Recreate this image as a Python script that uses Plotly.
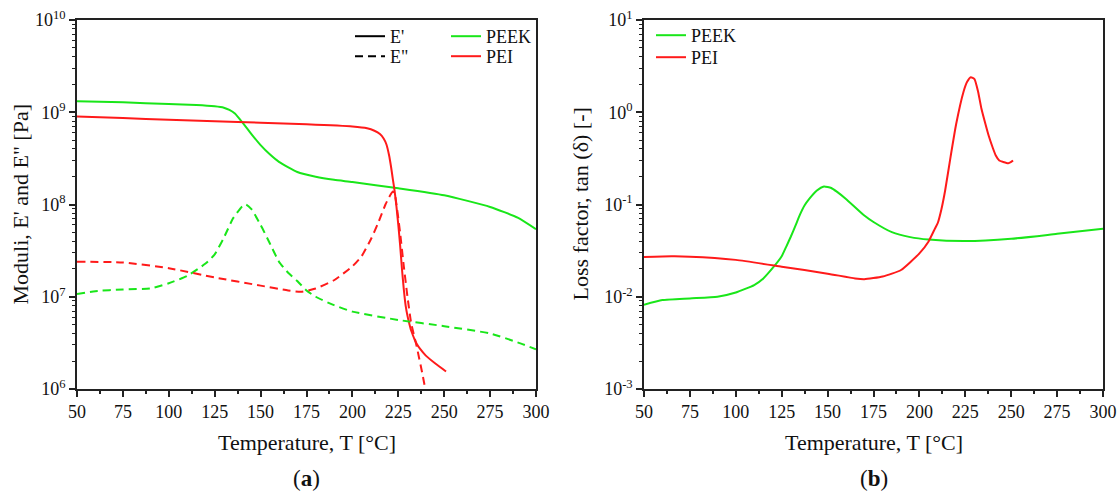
import plotly.graph_objects as go

# ---------------- data ----------------
# (a) storage / loss moduli [Pa]
peek_Ep_T = [50, 75, 100, 115, 125, 130, 133, 136, 140, 145, 150, 155, 160, 170, 180, 190, 200, 225, 250, 275, 290, 300]
peek_Ep = [1.32e9, 1.28e9, 1.23e9, 1.2e9, 1.16e9, 1.12e9, 1.06e9, 0.97e9, 0.78e9, 0.58e9, 0.44e9, 0.35e9,
           0.29e9, 0.225e9, 0.2e9, 0.185e9, 0.175e9, 0.15e9, 0.126e9, 0.094e9, 0.072e9, 0.054e9]

pei_Ep_T = [50, 75, 100, 125, 150, 175, 200, 208, 212, 215, 217, 218.5, 220, 221, 222, 223, 224, 225, 226,
            227, 228, 229, 230, 231, 232, 233, 234, 235, 237, 240, 245, 251]
pei_Ep = [9.0e8, 8.65e8, 8.3e8, 8.0e8, 7.7e8, 7.4e8, 7.0e8, 6.7e8, 6.3e8, 5.8e8, 5.2e8, 4.5e8, 3.4e8, 2.6e8,
          1.9e8, 1.4e8, 9.5e7, 6.0e7, 3.6e7, 2.0e7, 1.2e7, 8.0e6, 6.2e6, 5.1e6, 4.3e6, 3.8e6, 3.4e6, 3.1e6,
          2.7e6, 2.3e6, 1.9e6, 1.55e6]

peek_Epp_T = [50, 60, 75, 90, 100, 110, 120, 125, 130, 135, 140, 142, 145, 150, 155, 160, 165, 170, 175, 180,
              190, 200, 225, 250, 275, 290, 300]
peek_Epp = [1.07e7, 1.15e7, 1.2e7, 1.23e7, 1.4e7, 1.68e7, 2.29e7, 2.88e7, 4.37e7, 7.08e7, 9.55e7, 1.0e8,
            8.9e7, 6.0e7, 3.8e7, 2.4e7, 1.82e7, 1.48e7, 1.17e7, 1.0e7, 8.1e6, 6.9e6, 5.6e6, 4.8e6, 4.0e6,
            3.2e6, 2.7e6]

pei_Epp_T = [50, 75, 100, 125, 150, 165, 172, 180, 190, 200, 205, 210, 214, 218, 220, 222, 223, 224, 225,
             226, 228, 230, 232, 235, 238, 239.5]
pei_Epp = [2.4e7, 2.35e7, 2.04e7, 1.62e7, 1.32e7, 1.17e7, 1.13e7, 1.23e7, 1.51e7, 2.14e7, 2.75e7, 4.17e7,
           6.3e7, 1.0e8, 1.2e8, 1.38e8, 1.32e8, 1.0e8, 7.1e7, 4.9e7, 2.14e7, 1.0e7, 5.2e6, 2.9e6, 1.5e6, 1.05e6]

# (b) loss factor tan(delta) [-]
peek_tan_T = [50, 60, 75, 90, 100, 110, 115, 120, 125, 127.5, 130, 132.5, 135, 137.5, 140, 144, 148, 152, 155,
              160, 170, 175, 185, 195, 205, 225, 250, 275, 300]
peek_tan = [0.0082, 0.0092, 0.0096, 0.0100, 0.0111, 0.0134, 0.0158, 0.0204, 0.0275, 0.035, 0.045, 0.059,
            0.078, 0.098, 0.115, 0.141, 0.157, 0.151, 0.138, 0.115, 0.0759, 0.0646, 0.0501, 0.0443, 0.0417,
            0.0401, 0.0425, 0.0481, 0.0545]

pei_tan_T = [50, 65, 75, 100, 125, 150, 165, 170, 180, 190, 200, 205, 208.5, 210, 212, 214, 217, 220, 224,
             226, 228, 230, 232, 233.8, 236, 237.7, 240, 241.6, 243.5, 245.5, 248.4, 250, 251]
pei_tan = [0.0269, 0.0274, 0.0272, 0.0251, 0.0212, 0.0178, 0.0158, 0.0155, 0.0166, 0.0195, 0.0295, 0.0398,
           0.055, 0.063, 0.089, 0.141, 0.331, 0.741, 1.66, 2.14, 2.4, 2.29, 1.66, 1.09, 0.74, 0.56, 0.41,
           0.34, 0.30, 0.29, 0.28, 0.29, 0.30]

x_ticks = [50, 75, 100, 125, 150, 175, 200, 225, 250, 275, 300]
ya_ticks = [1e6, 1e7, 1e8, 1e9, 1e10]
ya_labels = ["10<sup>6</sup>", "10<sup>7</sup>", "10<sup>8</sup>", "10<sup>9</sup>", "10<sup>10</sup>"]
yb_ticks = [1e-3, 1e-2, 1e-1, 1e0, 1e1]
yb_labels = ["10<sup>-3</sup>", "10<sup>-2</sup>", "10<sup>-1</sup>", "10<sup>0</sup>", "10<sup>1</sup>"]

GREEN = "#19e619"
RED = "#ff1a1a"
FONT = "Liberation Serif"

fig = go.Figure()

lw = 2
SH = dict(shape="spline", smoothing=0.5)
DASH = "8px,5px"
# left panel
fig.add_trace(go.Scatter(x=peek_Ep_T, y=peek_Ep, mode="lines", line=dict(color=GREEN, width=lw, **SH),
                         showlegend=False, xaxis="x", yaxis="y"))
fig.add_trace(go.Scatter(x=pei_Ep_T, y=pei_Ep, mode="lines", line=dict(color=RED, width=lw, **SH),
                         showlegend=False, xaxis="x", yaxis="y"))
fig.add_trace(go.Scatter(x=peek_Epp_T, y=peek_Epp, mode="lines",
                         line=dict(color=GREEN, width=lw, dash=DASH, **SH),
                         showlegend=False, xaxis="x", yaxis="y"))
fig.add_trace(go.Scatter(x=pei_Epp_T, y=pei_Epp, mode="lines",
                         line=dict(color=RED, width=lw, dash=DASH, **SH),
                         showlegend=False, xaxis="x", yaxis="y"))
# legend entries (left panel)
fig.add_trace(go.Scatter(x=[None], y=[None], mode="lines", name="E'", line=dict(color="black", width=lw),
                         legend="legend", xaxis="x", yaxis="y"))
fig.add_trace(go.Scatter(x=[None], y=[None], mode="lines", name='E"', line=dict(color="black", width=lw, dash=DASH),
                         legend="legend2", xaxis="x", yaxis="y"))
fig.add_trace(go.Scatter(x=[None], y=[None], mode="lines", name="PEEK", line=dict(color=GREEN, width=lw),
                         legend="legend3", xaxis="x", yaxis="y"))
fig.add_trace(go.Scatter(x=[None], y=[None], mode="lines", name="PEI", line=dict(color=RED, width=lw),
                         legend="legend4", xaxis="x", yaxis="y"))

# right panel
fig.add_trace(go.Scatter(x=peek_tan_T, y=peek_tan, mode="lines", name="PEEK", line=dict(color=GREEN, width=lw, **SH),
                         legend="legend5", xaxis="x2", yaxis="y2"))
fig.add_trace(go.Scatter(x=pei_tan_T, y=pei_tan, mode="lines", name="PEI", line=dict(color=RED, width=lw, **SH),
                         legend="legend6", xaxis="x2", yaxis="y2"))

W, H = 1120, 492
L1, R1 = 77, 536
L2, R2 = 644, 1103
T0, B0 = 20, 389

def px(v):
    return v / W

def py(v):
    return 1 - v / H

minor_vals_a = [m * 10 ** e for e in range(6, 10) for m in range(2, 10)]
minor_vals_b = [m * 10 ** e for e in range(-3, 1) for m in range(2, 10)]

axis_common = dict(showline=True, linecolor="#222", linewidth=1.5, mirror=True, showgrid=False,
                   zeroline=False, ticks="outside", tickcolor="#222", tickwidth=1.5, automargin=False,
                   tickfont=dict(family=FONT, size=18, color="#111"))

xcommon = dict(axis_common, range=[50, 300], tickmode="array", tickvals=x_ticks, ticklen=6,
               minor=dict(tickmode="array", tickvals=[62.5 + 25 * i for i in range(10)], ticks="outside",
                          ticklen=3, tickcolor="#222", tickwidth=1.5, showgrid=False))

LEGFONT = dict(family=FONT, size=18, color="#111")


def leg(xpix, ycenter):
    return dict(x=px(xpix), y=py(ycenter - 17), xanchor="left", yanchor="top", bgcolor="rgba(0,0,0,0)",
                font=LEGFONT, tracegroupgap=0, itemwidth=30)


fig.update_layout(
    width=W, height=H,
    margin=dict(l=0, r=0, t=0, b=0),
    paper_bgcolor="white", plot_bgcolor="white",
    font=dict(family=FONT, size=16, color="#111"),
    xaxis=dict(xcommon, domain=[px(L1), px(R1)], anchor="y"),
    yaxis=dict(axis_common, type="log", range=[6, 10], tickmode="array", tickvals=ya_ticks, ticktext=ya_labels,
               ticklen=6, domain=[py(B0), py(T0)], anchor="x",
               minor=dict(tickmode="array", tickvals=minor_vals_a, ticks="outside", ticklen=3, tickcolor="#222",
                          tickwidth=1.2, showgrid=False)),
    xaxis2=dict(xcommon, domain=[px(L2), px(R2)], anchor="y2"),
    yaxis2=dict(axis_common, type="log", range=[-3, 1], tickmode="array", tickvals=yb_ticks, ticktext=yb_labels,
                ticklen=6, domain=[py(B0), py(T0)], anchor="x2",
                minor=dict(tickmode="array", tickvals=minor_vals_b, ticks="outside", ticklen=3, tickcolor="#222",
                           tickwidth=1.2, showgrid=False)),
    legend=leg(350, 35),
    legend2=leg(350, 55),
    legend3=leg(446, 35),
    legend4=leg(446, 55),
    legend5=leg(651, 34),
    legend6=leg(651, 56),
    annotations=[
        dict(text="Temperature, T [°C]", x=(px(L1) + px(R1)) / 2, y=py(442), xref="paper", yref="paper",
             showarrow=False, font=dict(family=FONT, size=22, color="#111"), xanchor="center", yanchor="middle"),
        dict(text="Temperature, T [°C]", x=(px(L2) + px(R2)) / 2, y=py(442), xref="paper", yref="paper",
             showarrow=False, font=dict(family=FONT, size=22, color="#111"), xanchor="center", yanchor="middle"),
        dict(text="(<b>a</b>)", x=(px(L1) + px(R1)) / 2, y=py(478), xref="paper", yref="paper",
             showarrow=False, font=dict(family=FONT, size=23, color="#111"), xanchor="center", yanchor="middle"),
        dict(text="(<b>b</b>)", x=(px(L2) + px(R2)) / 2, y=py(478), xref="paper", yref="paper",
             showarrow=False, font=dict(family=FONT, size=23, color="#111"), xanchor="center", yanchor="middle"),
        dict(text="Moduli, E' and E\" [Pa]", x=px(20), y=py((T0 + B0) / 2), xref="paper", yref="paper",
             showarrow=False, textangle=-90, font=dict(family=FONT, size=22, color="#111"),
             xanchor="center", yanchor="middle"),
        dict(text="Loss factor, tan (δ) [-]", x=px(580), y=py((T0 + B0) / 2), xref="paper", yref="paper",
             showarrow=False, textangle=-90, font=dict(family=FONT, size=22, color="#111"),
             xanchor="center", yanchor="middle"),
    ],
)

fig.write_html("out.html", config={"displayModeBar": False},
               post_script="document.body.style.margin='0';document.body.style.overflow='hidden';")
